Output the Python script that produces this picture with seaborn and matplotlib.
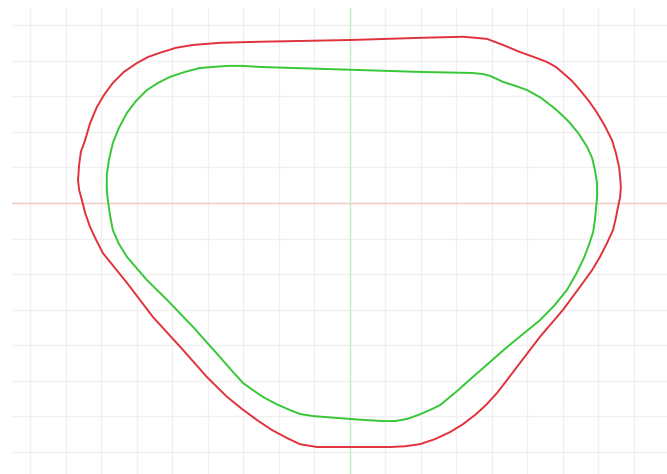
import numpy as np
import pandas as pd
import matplotlib.pyplot as plt
import seaborn as sns

# outer (red) contour, grid units, clockwise from the left side
outer_x = [-7.66, -7.63, -7.58, -7.46, -7.32, -7.13, -6.93, -6.68, -6.37, -6.00, -5.69, -5.35,
           -4.90, -4.42, -4.03, -3.66, -2.54, 0.06, 1.97, 3.18, 3.55, 3.86, 4.31, 4.79,
           5.18, 5.55, 5.80, 6.00, 6.25, 6.48, 6.73, 6.96, 7.18, 7.38, 7.49, 7.58,
           7.61, 7.63, 7.61, 7.55, 7.49, 7.41, 7.24, 7.04, 6.82, 6.56, 6.00, 5.35,
           4.70, 4.42, 4.14, 3.83, 3.52, 3.18, 2.82, 2.39, 1.97, 1.55, 1.13, 0.00,
           -0.93, -1.41, -1.77, -2.20, -2.62, -3.04, -3.46, -4.03, -4.70, -5.55, -6.28, -6.96,
           -7.15, -7.32, -7.46, -7.55, -7.63]
outer_y = [0.65, 1.07, 1.44, 1.77, 2.25, 2.70, 3.04, 3.38, 3.69, 3.94, 4.11, 4.23,
           4.37, 4.45, 4.48, 4.51, 4.54, 4.59, 4.65, 4.68, 4.65, 4.62, 4.45, 4.25,
           4.11, 3.97, 3.83, 3.66, 3.44, 3.18, 2.87, 2.54, 2.17, 1.77, 1.41, 1.01,
           0.73, 0.45, 0.17, -0.11, -0.42, -0.76, -1.13, -1.52, -1.89, -2.25, -3.01, -3.77,
           -4.62, -4.99, -5.35, -5.69, -5.97, -6.23, -6.45, -6.65, -6.79, -6.85, -6.87, -6.87,
           -6.87, -6.79, -6.62, -6.39, -6.11, -5.80, -5.46, -4.90, -4.14, -3.21, -2.25, -1.41,
           -1.04, -0.68, -0.28, 0.08, 0.37]

# inner (green) contour
inner_x = [-6.85, -6.85, -6.79, -6.68, -6.51, -6.28, -6.03, -5.72, -5.41, -5.07, -4.65, -4.23,
           -3.86, -3.46, -3.01, -2.54, 0.06, 1.97, 3.46, 3.75, 3.94, 4.14, 4.31, 4.65,
           4.99, 5.38, 5.72, 5.97, 6.20, 6.45, 6.68, 6.82, 6.90, 6.96, 6.96, 6.93,
           6.90, 6.85, 6.73, 6.59, 6.37, 6.11, 5.77, 5.35, 4.42, 3.46, 3.01, 2.54,
           2.25, 1.92, 1.61, 1.27, 0.93, 0.42, 0.00, -1.04, -1.41, -1.69, -2.08, -2.45,
           -2.73, -3.01, -3.32, -3.66, -4.42, -5.15, -5.72, -6.28, -6.51, -6.68, -6.76, -6.82]
inner_y = [0.37, 0.79, 1.21, 1.69, 2.11, 2.54, 2.87, 3.18, 3.38, 3.55, 3.69, 3.80,
           3.83, 3.86, 3.86, 3.83, 3.75, 3.69, 3.66, 3.63, 3.58, 3.49, 3.41, 3.30,
           3.18, 2.96, 2.70, 2.48, 2.25, 1.94, 1.58, 1.27, 0.93, 0.56, 0.17, -0.17,
           -0.48, -0.82, -1.18, -1.55, -2.00, -2.45, -2.87, -3.30, -4.06, -4.90, -5.30, -5.69,
           -5.83, -5.97, -6.08, -6.14, -6.14, -6.11, -6.08, -6.00, -5.94, -5.83, -5.66, -5.46,
           -5.27, -5.07, -4.73, -4.34, -3.49, -2.73, -2.17, -1.52, -1.15, -0.76, -0.34, 0.08]

outer = pd.DataFrame({'x': outer_x + outer_x[:1], 'y': outer_y + outer_y[:1]})
inner = pd.DataFrame({'x': inner_x + inner_x[:1], 'y': inner_y + inner_y[:1]})

sns.set_style('white')
fig = plt.figure(figsize=(6.67, 4.74), dpi=100)
ax = fig.add_axes([12/667, 0, 655/667, 466/474])

ax.set_xlim(-9.52, 8.93)
ax.set_ylim(-7.63, 5.49)
ax.set_xticks(np.arange(-9, 9))
ax.set_yticks(np.arange(-7, 6))
ax.grid(True, color='#f0f0f0', linewidth=1)
ax.tick_params(length=0, labelbottom=False, labelleft=False)
for s in ax.spines.values():
    s.set_visible(False)

ax.axhline(0, color='#f5c8c8', linewidth=1)
ax.axvline(0, color='#c8ecc8', linewidth=1)

sns.lineplot(data=outer, x='x', y='y', sort=False, estimator=None, color='#e0323c', linewidth=1.4, ax=ax)
sns.lineplot(data=inner, x='x', y='y', sort=False, estimator=None, color='#36c736', linewidth=1.4, ax=ax)
ax.set_xlabel('')
ax.set_ylabel('')

fig.savefig('out.png', dpi=100)
